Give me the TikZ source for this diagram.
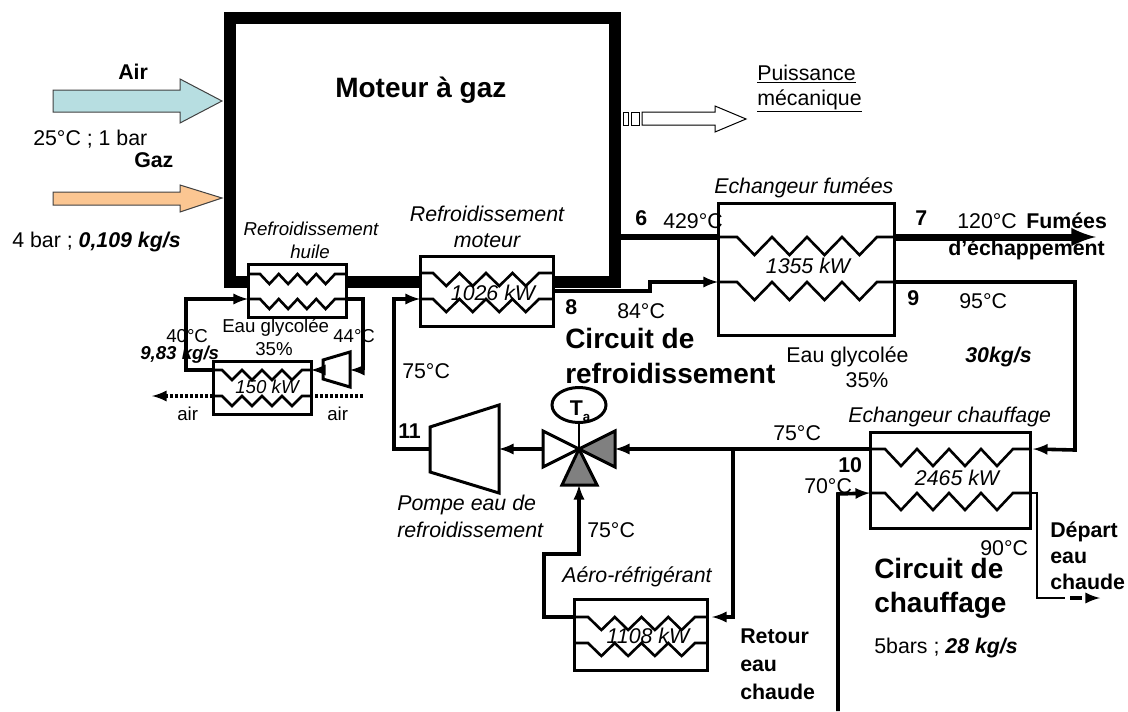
\documentclass[tikz,border=0pt]{standalone}
\usepackage{fontspec}
\setmainfont{Liberation Sans}
\usetikzlibrary{shapes.geometric}

\def\px{0.75pt}
\newcommand{\normaltxt}{\fontsize{16}{16}\selectfont}
\newcommand{\smalltxt}{\fontsize{14}{14}\selectfont}
\newcommand{\bigtxt}{\fontsize{21}{21}\selectfont}

\definecolor{airblue}{HTML}{B7DEE1}
\definecolor{gazorange}{HTML}{FBC692}
\definecolor{vannegrey}{HTML}{808080}

\tikzset{
    lab/.style={anchor=base west, inner sep=0pt, font=\normaltxt},
    labc/.style={anchor=base, inner sep=0pt, font=\normaltxt},
    slab/.style={anchor=base west, inner sep=0pt, font=\smalltxt},
    slabc/.style={anchor=base, inner sep=0pt, font=\smalltxt},
    titre/.style={anchor=base west, inner sep=0pt, font=\bigtxt\bfseries},
    echangeur/.style={draw, fill=white, line width=3*\px, inner sep=0pt},
    bobine/.style={line width=2.6*\px, line join=miter},
    tuyau/.style={line width=3.6*\px, line join=miter},
    pompe/.style={draw, fill=white, line width=3*\px},
    bloc/.style={draw=black!75, line width=1*\px},
    pointille/.style={line width=3.6*\px, dash pattern=on 3*\px off 2*\px}
}

% name, box left, box right, zigzag start, zigzag end, y, depth
\newcommand{\coil}[7]{%
    \pgfmathsetmacro{\pas}{(#5-#4)/8}
    \coordinate (#1w) at (#2,#6);
    \coordinate (#1e) at (#3,#6);
    \draw[bobine] (#1w) -- (#4,#6)
        \foreach \i in {1,3,5,7} {
            -- ({#4+\i*\pas},{#6+#7}) -- ({#4+(\i+1)*\pas},#6)
        } -- (#1e);
}

\begin{document}
\begin{tikzpicture}[x=\px, y=-\px, >=latex]

    \useasboundingbox (0,0) rectangle (1128,711);

    % Moteur
    \node[draw, line width=12.5*\px, minimum width=385*\px, minimum height=264*\px, inner sep=0pt] (moteur) at (422.5,150) {};
    \node[titre] (moteurtxt) at (335,97) {Moteur à gaz};

    % Air et gaz
    \draw[bloc, fill=airblue] (53,90) -- (180,90) -- (180,79) -- (222,101) -- (180,123) -- (180,112) -- (53,112) -- cycle;
    \draw[bloc, fill=gazorange] (53,192) -- (180,192) -- (180,185) -- (222,198) -- (180,212) -- (180,205) -- (53,205) -- cycle;
    \node[lab, font=\normaltxt\bfseries] (airtxt) at (118,79) {Air};
    \node[lab] (airinfo) at (33,145) {25°C ; 1 bar};
    \node[lab, font=\normaltxt\bfseries] (gaztxt) at (134,167) {Gaz};
    \node[lab] (gazinfo) at (12,247) {4 bar ; \textbf{\textit{0,109 kg/s}}};

    % Puissance
    \draw[bloc, draw=black, fill=white] (642,112) -- (715,112) -- (715,106) -- (746,119) -- (715,132) -- (715,125) -- (642,125) -- cycle;
    \draw[bloc, draw=black] (623,112) rectangle (628,125);
    \draw[bloc, draw=black] (631,112) rectangle (639,125);
    \node[lab] (puiss1) at (757,80) {\underline{Puissance}};
    \node[lab] (puiss2) at (757,105) {\underline{mécanique}};

    % Echangeurs
    \node[echangeur, minimum width=98*\px, minimum height=53*\px] (huile) at (297,290.5) {};
    \node[echangeur, minimum width=133*\px, minimum height=70*\px] (moteurx) at (486.5,291) {};
    \node[echangeur, minimum width=176*\px, minimum height=132*\px] (fumees) at (806,269) {};
    \node[echangeur, minimum width=160*\px, minimum height=96*\px] (chauf) at (950,480) {};
    \node[echangeur, minimum width=133*\px, minimum height=71*\px] (aero) at (640.5,634.5) {};
    \node[echangeur, minimum width=98*\px, minimum height=53*\px] (petit) at (262,387.5) {};

    \coil{hua}{248}{346}{260}{335}{274}{10}
    \coil{hub}{248}{346}{260}{335}{299}{10}
    \coil{moa}{420}{553}{433}{539}{273}{13}
    \coil{mob}{420}{553}{433}{539}{299}{13}
    \coil{fua}{718}{894}{737}{877}{237}{18}
    \coil{fub}{718}{894}{737}{877}{282}{18}
    \coil{cha}{870}{1030}{885}{1013}{449}{17}
    \coil{chb}{870}{1030}{885}{1013}{493}{17}
    \coil{aea}{574}{707}{588}{695}{617}{13}
    \coil{aeb}{574}{707}{588}{695}{643}{13}
    \coil{pea}{213}{311}{222}{302}{370}{10}
    \coil{peb}{213}{311}{222}{302}{396}{10}

    % Pompes et vanne
    \draw[pompe] (430,427) -- (499,405) -- (499,493) -- (430,472) -- cycle;
    \coordinate (pompeg) at (430,449);
    \coordinate (pomped) at (499,449);
    \draw[pompe] (323,360) -- (350,352) -- (350,387) -- (323,379) -- cycle;
    \coordinate (ppg) at (323,370);
    \coordinate (ppd) at (350,370);

    \coordinate (vanne) at (579,449);
    \coordinate (vanneg) at (543,449);
    \coordinate (vanned) at (615,449);
    \coordinate (vanneb) at (579,485);
    \node[draw, ellipse, line width=3*\px, fill=white, minimum width=54*\px, minimum height=35*\px, inner sep=0pt] (temp) at (579,405) {};
    \draw[line width=2.6*\px] (vanne) -- (temp);
    \node[labc, font=\normaltxt\bfseries] (temptxt) at (580,415) {T\raisebox{-0.3em}{\fontsize{10}{10}\selectfont a}};
    \draw[pompe] (vanne) -- (543,431) -- (543,467) -- cycle;
    \draw[pompe, fill=vannegrey] (vanne) -- (615,431) -- (615,467) -- cycle;
    \draw[pompe, fill=vannegrey] (vanne) -- (562,485) -- (597,485) -- cycle;

    % Circuit de refroidissement
    \coordinate (m1) at (615,237);
    \coordinate (s8) at (553,291);
    \coordinate (c8a) at (650,291);
    \coordinate (c8b) at (650,282);
    \coordinate (c9) at (1075,282);
    \coordinate (c9b) at (1075,450);
    \coordinate (fin7) at (1096,237);
    \coordinate (p1) at (733,449);
    \coordinate (p2) at (733,617);
    \coordinate (a1) at (544,617);
    \coordinate (a2) at (544,554);
    \coordinate (a3) at (579,554);
    \coordinate (r1) at (394,449);
    \coordinate (r2) at (394,299);

    \draw[line width=6.5*\px] (m1) -- (fuaw);
    \draw[line width=7*\px, ->] (fuae) -- (fin7);
    \draw[tuyau, ->] (s8) -- (c8a) -- (c8b) -- (fubw);
    \draw[tuyau, ->] (fube) -- (c9) -- (c9b) -- ([xshift=3*\px]chae);
    \draw[tuyau, ->] (chaw) -- (vanned);
    \draw[tuyau, ->] (vanneg) -- (pomped);
    \draw[tuyau, ->] (pompeg) -- (r1) -- (r2) -- (mobw);
    \draw[tuyau, ->] (p1) -- (p2) -- ([xshift=5*\px]aeae);
    \draw[tuyau, ->] (aeaw) -- (a1) -- (a2) -- (a3) -- (vanneb);

    % Circuit huile
    \coordinate (h1) at (363,299);
    \coordinate (h2) at (363,370);
    \coordinate (h3) at (186,370);
    \coordinate (h4) at (186,299);
    \coordinate (airg) at (152,396);
    \coordinate (aird) at (363,396);
    \draw[tuyau, ->] (hube) -- (h1) -- (h2) -- (ppd);
    \draw[tuyau, ->] (ppg) -- (peae);
    \draw[tuyau, ->] (peaw) -- (h3) -- (h4) -- (hubw);
    \draw[pointille] (aird) -- (pebe);
    \draw[pointille, ->] (pebw) -- (airg);

    % Circuit de chauffage
    \coordinate (d1) at (838,711);
    \coordinate (d2) at (838,494);
    \coordinate (d3) at (1037,493);
    \coordinate (d4) at (1037,598);
    \coordinate (d5) at (1065,598);
    \coordinate (d5b) at (1070,598);
    \coordinate (d6) at (1100,598);
    \draw[tuyau, ->] (d1) -- (d2) -- (chbw);
    \draw[bobine] (chbe) -- (d3) -- (d4) -- (d5);
    \draw[tuyau, dash pattern=on 12*\px off 8*\px, ->] (d5b) -- (d6);

    % Textes echangeurs
    \node[slabc, font=\smalltxt\itshape] (huile1) at (311,235) {Refroidissement};
    \node[slabc, font=\smalltxt\itshape] (huile2) at (310,258) {huile};
    \node[labc, font=\normaltxt\itshape] (mot1) at (487,221) {Refroidissement};
    \node[labc, font=\normaltxt\itshape] (mot2) at (487,247) {moteur};
    \node[labc, font=\normaltxt\itshape] (motkw) at (493,300) {1026 kW};
    \node[lab, font=\normaltxt\itshape] (fumtxt) at (714,193) {Echangeur fumées};
    \node[labc, font=\normaltxt\itshape] (fumkw) at (808,273) {1355 kW};
    \node[lab, font=\normaltxt\itshape] (chatxt) at (848,422) {Echangeur chauffage};
    \node[labc, font=\normaltxt\itshape] (chakw) at (957,485) {2465 kW};
    \node[lab, font=\normaltxt\itshape] (aertxt) at (562,582) {Aéro-réfrigérant};
    \node[labc, font=\normaltxt\itshape] (aerkw) at (648,643) {1108 kW};
    \node[labc, font=\smalltxt\itshape] (petkw) at (267,393) {150 kW};
    \node[lab, font=\normaltxt\itshape] (pom1) at (397,510) {Pompe eau de};
    \node[lab, font=\normaltxt\itshape] (pom2) at (397,537) {refroidissement};

    % Numeros
    \node[lab, font=\normaltxt\bfseries] (n6) at (635,225) {6};
    \node[lab, font=\normaltxt\bfseries] (n7) at (915,225) {7};
    \node[lab, font=\normaltxt\bfseries] (n8) at (565,314) {8};
    \node[lab, font=\normaltxt\bfseries] (n9) at (907,305) {9};
    \node[lab, font=\normaltxt\bfseries] (n10) at (838,472) {10};
    \node[lab, font=\normaltxt\bfseries] (n11) at (398,438) {11};

    % Temperatures
    \node[lab] (t429) at (663,228) {429°C};
    \node[lab] (t120) at (957,228) {120°C};
    \node[lab] (t95) at (959,308) {95°C};
    \node[lab] (t84) at (617,318) {84°C};
    \node[lab] (t75a) at (402,378) {75°C};
    \node[lab] (t75b) at (587,537) {75°C};
    \node[lab] (t75c) at (773,440) {75°C};
    \node[lab] (t70) at (804,493) {70°C};
    \node[lab] (t90) at (980,555) {90°C};
    \node[slab] (t40) at (166,342) {40°C};
    \node[slab] (t44) at (333,342) {44°C};

    % Fluides
    \node[lab, font=\normaltxt\bfseries] (fum1) at (1026,228) {Fumées};
    \node[lab, font=\normaltxt\bfseries] (fum2) at (948,255) {d’échappement};
    \node[titre] (cir1) at (565,348) {Circuit de};
    \node[titre] (cir2) at (565,383) {refroidissement};
    \node[labc] (eau1) at (847.5,362) {Eau glycolée};
    \node[labc] (eau2) at (867,387) {35\%};
    \node[lab, font=\normaltxt\bfseries\itshape] (deb30) at (965,362) {30kg/s};
    \node[slab] (geau1) at (222,332) {Eau glycolée};
    \node[slabc] (geau2) at (274,355) {35\%};
    \node[slab, font=\smalltxt\bfseries\itshape] (deb9) at (140,359) {9,83 kg/s};
    \node[slab] (air1) at (177,420) {air};
    \node[slab] (air2) at (327,420) {air};
    \node[titre] (cir3) at (874,578) {Circuit de};
    \node[titre] (cir4) at (874,612) {chauffage};
    \node[lab] (bars) at (874,653) {5bars ; \textbf{\textit{28 kg/s}}};
    \node[lab, font=\normaltxt\bfseries] (dep1) at (1050,537) {Départ};
    \node[lab, font=\normaltxt\bfseries] (dep2) at (1050,563) {eau};
    \node[lab, font=\normaltxt\bfseries] (dep3) at (1050,589) {chaude};
    \node[lab, font=\normaltxt\bfseries] (ret1) at (740,643) {Retour};
    \node[lab, font=\normaltxt\bfseries] (ret2) at (740,671) {eau};
    \node[lab, font=\normaltxt\bfseries] (ret3) at (740,699) {chaude};

\end{tikzpicture}
\end{document}
